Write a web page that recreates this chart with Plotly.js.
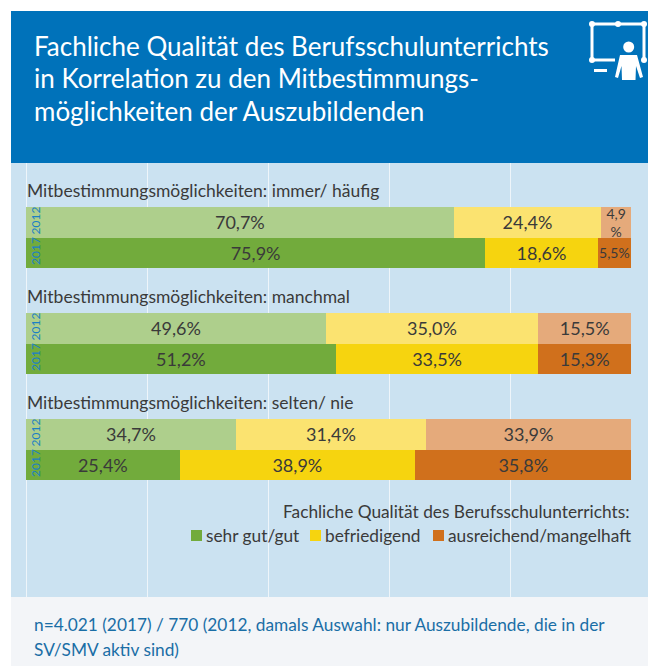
<!DOCTYPE html>
<html><head><meta charset="utf-8">
<script src="https://cdn.plot.ly/plotly-3.0.1.min.js"></script>
<style>html,body{margin:0;padding:0;background:#fff}</style></head>
<body><div id="chart" style="width:648px;height:666px"></div>
<script>
const W = 648, H = 666;
const titleLines = ["Fachliche Qualität des Berufsschulunterrichts","in Korrelation zu den Mitbestimmungs-","möglichkeiten der Auszubildenden"];
const years = ["2017","2012"];
const groupNames = ["Mitbestimmungsmöglichkeiten: immer/ häufig","Mitbestimmungsmöglichkeiten: manchmal","Mitbestimmungsmöglichkeiten: selten/ nie"];
const seriesNames = ["sehr gut/gut","befriedigend","ausreichend/mangelhaft"];
// values listed [2017, 2012]
const sehrGut = [[75.9,70.7],[51.2,49.6],[25.4,34.7]];
const befriedigend = [[18.6,24.4],[33.5,35.0],[38.9,31.4]];
const ausreichend = [[5.5,4.9],[15.3,15.5],[35.8,33.9]];
const colors2017 = ["#72ab3c","#f6d40f","#d0701c"];
const colors2012 = ["#aecf8c","#fbe370","#e5aa7b"];
const legendTitle = "Fachliche Qualität des Berufsschulunterrichts:";
const footnote = ["n=4.021 (2017) / 770 (2012, damals Auswahl: nur Auszubildende, die in der","SV/SMV aktiv sind)"];
const FONT = 'Lato,"Liberation Sans",sans-serif';

const px = x => x / W, py = y => 1 - y / H;
const fmt = v => { const s = v.toFixed(1).replace(".", ","); return v < 5 ? s + "<br>%" : s + "%"; };
const allSeries = [sehrGut, befriedigend, ausreichend];
const barTops = [207, 313, 419], barBottoms = [268, 374, 480];

// carries the full-height grid subplot behind the bars
const traces = [{type: "scatter", x: [], y: [], xaxis: "x", yaxis: "y", showlegend: false, hoverinfo: "skip"}];
allSeries.forEach((series, s) => series.forEach((vals, g) => {
  traces.push({
    type: "bar", orientation: "h", name: seriesNames[s], x: vals, y: years,
    xaxis: "x", yaxis: "y" + (g + 2),
    text: vals.map(fmt), textposition: "inside", insidetextanchor: "middle", textangle: 0,
    constraintext: "none", cliponaxis: true, hoverinfo: "name+x",
    textfont: {family: FONT, color: "#3a3a3a", size: vals.map(v => v < 5 ? 14 : (v < 6 ? 14 : 18))},
    marker: {color: [colors2017[s], colors2012[s]], line: {width: 0}}
  });
}));

const rect = (x0, y0, x1, y1, fill) => ({type: "rect", xref: "paper", yref: "paper", x0: px(x0), x1: px(x1), y0: py(y0), y1: py(y1), fillcolor: fill, line: {width: 0}, layer: "below"});
const shapes = [rect(11, 163, W, 597, "#cbe2f1"), rect(11, 597, W, H, "#f3f5f8"), rect(11, 11, W, 163, "#0072ba")];

// pictogram
const line = (x0,y0,x1,y1,w) => ({type:"line",xref:"paper",yref:"paper",x0:px(x0),x1:px(x1),y0:py(y0),y1:py(y1),line:{color:"#fff",width:w||3},layer:"above"});
const dot = (x,y,r) => ({type:"circle",xref:"paper",yref:"paper",x0:px(x-r),x1:px(x+r),y0:py(y+r),y1:py(y-r),fillcolor:"#fff",line:{width:0},layer:"above"});
shapes.push(line(592,24,644,24), line(592,24,592,60), line(592,60,615,60), line(644,24,644,60));
[[592,24],[618,24],[644,24],[592,60],[644,60]].forEach(p => shapes.push(dot(p[0],p[1],3)));
shapes.push(dot(628.7,47,5.5), line(594,70.5,607,70.5,3));
shapes.push({type:"path",xref:"paper",yref:"paper",layer:"above",fillcolor:"#fff",line:{width:0},
  path:`M ${px(615)} ${py(77)} L ${px(620)} ${py(55)} L ${px(637)} ${py(55)} L ${px(643)} ${py(77)} L ${px(640)} ${py(78)} L ${px(636)} ${py(66)} L ${px(635.5)} ${py(80)} L ${px(622)} ${py(80)} L ${px(621.5)} ${py(66)} L ${px(618)} ${py(78)} Z`});

const ann = (t, x, y, size, color, anchor) => ({text: t, xref: "paper", yref: "paper", x: px(x), y: py(y), xanchor: anchor || "left", yanchor: "middle", showarrow: false, font: {family: FONT, size, color}, align: anchor === "right" ? "right" : "left"});
const annotations = [];
titleLines.forEach((t, i) => annotations.push(ann(t, 32, 46 + i * 32.5, 26, "#ffffff")));
groupNames.forEach((t, i) => annotations.push(ann(t, 25, 190 + i * 106, 17.5, "#3a3a3a")));
annotations.push(ann(legendTitle, 632, 511, 17.3, "#3a3a3a", "right"));
const legendX = [191, 310, 433], legendColors = colors2017;
seriesNames.forEach((t, i) => {
  annotations.push(ann(t, legendX[i] + 13, 535, 17.3, "#3a3a3a"));
  shapes.push(Object.assign(rect(legendX[i], 530, legendX[i] + 11, 541, legendColors[i]), {layer: "above"}));
});
footnote.forEach((t, i) => annotations.push(ann(t, 32, 624 + i * 25, 17.3, "#1a6ea6")));

const layout = {
  width: W, height: H, margin: {l: 0, r: 0, t: 0, b: 0}, showlegend: false,
  paper_bgcolor: "#fff", plot_bgcolor: "rgba(0,0,0,0)", barmode: "stack", bargap: 0,
  font: {family: FONT},
  xaxis: {domain: [px(26), px(631)], range: [0, 100], anchor: "y", tick0: 0, dtick: 20, showgrid: true, gridcolor: "#eef5fa", gridwidth: 1, zeroline: true, zerolinecolor: "#eef5fa", zerolinewidth: 1, showticklabels: false, ticks: "", showline: false, fixedrange: true},
  yaxis: {domain: [py(597), py(163)], anchor: "x", showgrid: false, zeroline: false, showticklabels: false, ticks: "", fixedrange: true},
  shapes, annotations
};
barTops.forEach((top, g) => {
  layout["yaxis" + (g + 2)] = {domain: [py(barBottoms[g]), py(top)], anchor: "x", type: "category", categoryorder: "array", categoryarray: years,
    tickmode: "array", tickvals: years, ticktext: years,
    ticklabelposition: "inside", ticklabelstandoff: -3, tickangle: -90, ticklabeloverflow: "allow", tickfont: {family: FONT, size: 12, color: "#1c80c4"}, showgrid: false, zeroline: false, ticks: "", showline: false, fixedrange: true};
});
Plotly.newPlot("chart", traces, layout, {displayModeBar: false, staticPlot: true});
</script></body></html>
